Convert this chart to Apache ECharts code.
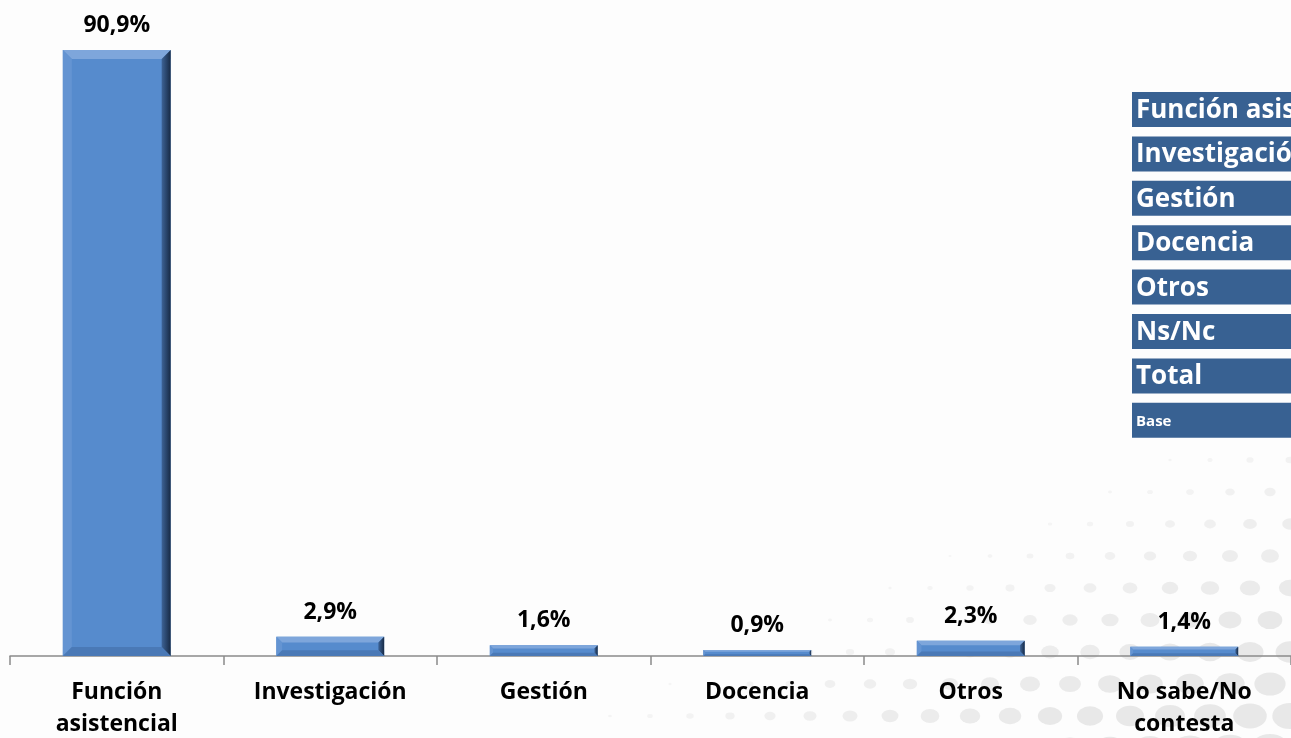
<!DOCTYPE html>
<html>
<head>
<meta charset="utf-8">
<title>Función principal</title>
<script src="https://cdn.jsdelivr.net/npm/echarts@6/dist/echarts.min.js"></script>
<style>
  html, body { margin: 0; padding: 0; background: #fdfdfd; }
  #chart { width: 1291px; height: 738px; }
</style>
</head>
<body>
<div id="chart"></div>
<script>
// Categories and percentages
const categories = ['Función\nasistencial', 'Investigación', 'Gestión', 'Docencia', 'Otros', 'No sabe/No\ncontesta'];
const values = [90.9, 2.9, 1.6, 0.9, 2.3, 1.4];
// Row captions of the side table
const tableRows = ['Función asistencial', 'Investigación', 'Gestión', 'Docencia', 'Otros', 'Ns/Nc', 'Total', 'Base'];

const FONT = '"Open Sans", Lato, sans-serif';

const chart = echarts.init(document.getElementById('chart'), null, { renderer: 'canvas' });

function fmt(v) { return v.toFixed(1).replace('.', ',') + '%'; }

// Light grey dotted backdrop growing toward the lower right corner
function backdropDots() {
  const out = [];
  const stepX = 40, stepY = 32;
  for (let row = 0; row < 15; row++) {
    const y = 748 - row * stepY;
    const shift = (row % 2) * stepX / 2;
    for (let x = 1310 - shift; x > 420; x -= stepX) {
      const d = ((x - 540) * 330 + (y - 738) * 731) / 802;
      if (d <= 0) continue;
      const r = 1 + d * 0.042;
      out.push({
        type: 'circle', silent: true, z: -10,
        x: x, y: y, scaleX: 1.35,
        shape: { cx: 0, cy: 0, r: Math.min(r, 14) },
        style: { fill: '#e4e4e4', opacity: Math.min(0.85, 0.3 + d / 350) }
      });
    }
  }
  return out;
}

// Side table: dark blue caption cells, clipped at the right edge
function sideTable() {
  const els = [];
  const top = 92, h = 35, gap = 9.4;
  tableRows.forEach((name, i) => {
    const y = top + i * (h + gap);
    els.push({
      type: 'rect', silent: true, z: 50,
      shape: { x: 1132, y: y, width: 170, height: h },
      style: { fill: '#386192' }
    });
    const small = name === 'Base';
    els.push({
      type: 'text', silent: true, z: 51,
      x: 1136, y: y + h / 2 + 1,
      style: {
        text: name, fill: '#ffffff',
        font: 'bold ' + (small ? 15 : 26) + 'px ' + FONT,
        verticalAlign: 'middle', align: 'left'
      }
    });
  });
  return els;
}

// Bevelled bar drawn from the category/value scales
function renderBevelBar(params, api) {
  const idx = api.value(0);
  const val = api.value(1);
  const topPt = api.coord([idx, val]);
  const basePt = api.coord([idx, 0]);
  const bw = api.size([1, 0])[0] * 0.505;
  const l = topPt[0] - bw / 2, r = topPt[0] + bw / 2;
  const t = topPt[1], b = basePt[1];
  const h = b - t;
  const d = Math.max(1, Math.min(9, h * 0.3, bw / 2));
  const poly = (pts, fill) => ({ type: 'polygon', shape: { points: pts }, style: { fill: fill } });
  return {
    type: 'group',
    children: [
      { type: 'rect', shape: { x: l, y: t, width: bw, height: h }, style: { fill: '#568bcd' } },
      poly([[l, t], [r, t], [r - d, t + d], [l + d, t + d]], '#7ea6db'),
      poly([[l, t], [l + d, t + d], [l + d, b - d], [l, b]], '#6494d2'),
      poly([[r, t], [r, b], [r - d, b - d], [r - d, t + d]], new echarts.graphic.LinearGradient(0, 0, 1, 0, [
        { offset: 0, color: '#3d6396' }, { offset: 1, color: '#172a45' }
      ])),
      poly([[l, b], [r, b], [r - d, b - d], [l + d, b - d]], '#4a79b6'),
      {
        type: 'text',
        x: topPt[0], y: t - 13,
        style: {
          text: fmt(val), fill: '#000000',
          font: 'bold 23px ' + FONT,
          align: 'center', verticalAlign: 'bottom'
        }
      }
    ]
  };
}

chart.setOption({
  backgroundColor: '#fdfdfd',
  animation: false,
  grid: { left: 10, right: 0, top: 50, bottom: 82, containLabel: false, outerBoundsMode: 'none' },
  xAxis: {
    type: 'category',
    data: categories,
    boundaryGap: true,
    axisLine: { show: true, lineStyle: { color: '#8a8a8a', width: 1.5 } },
    axisTick: { show: true, length: 9, alignWithLabel: false, lineStyle: { color: '#8a8a8a', width: 1.5 } },
    axisLabel: {
      interval: 0, margin: 20,
      color: '#000000', fontFamily: FONT, fontWeight: 'bold', fontSize: 23,
      lineHeight: 32
    }
  },
  yAxis: {
    type: 'value', min: 0, max: 90.9,
    show: false, splitLine: { show: false }
  },
  series: [{
    type: 'custom',
    renderItem: renderBevelBar,
    encode: { x: 0, y: 1 },
    data: values.map((v, i) => [i, v]),
    clip: false,
    z: 5
  }],
  graphic: { elements: backdropDots().concat(sideTable()) }
});
</script>
</body>
</html>
